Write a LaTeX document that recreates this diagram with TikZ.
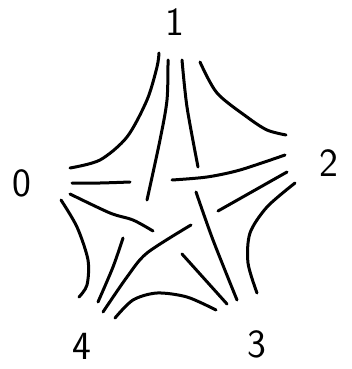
\documentclass[tikz,border=0pt]{standalone}
\begin{document}
\begin{tikzpicture}[x=1pt, y=-1pt,
    edge/.style={line width=3pt, line cap=round},
    vlabel/.style={font=\fontsize{40}{40}\selectfont\sffamily}]

    \useasboundingbox (0,0) rectangle (352,369);

    % Labels
    \node[vlabel] (v0) at (22,183) {0};
    \node[vlabel] (v1) at (175,22) {1};
    \node[vlabel] (v2) at (329,163) {2};
    \node[vlabel] (v3) at (257,344) {3};
    \node[vlabel] (v4) at (82,346) {4};

    % Outer arcs
    \draw[edge] plot[smooth] coordinates {(70,168) (100,160) (127,137) (147,100) (157,67) (159,53)};
    \draw[edge] plot[smooth] coordinates {(200,62) (217,93) (247,117) (267,130) (286,135)};
    \draw[edge] plot[smooth] coordinates {(295,183) (267,207) (250,233) (248,263) (257,293)};
    \draw[edge] plot[smooth] coordinates {(216,310) (187,297) (157,293) (133,300) (115,318)};
    \draw[edge] plot[smooth] coordinates {(79,297) (87,285) (88,260) (77,227) (61,200)};

    % Inner star
    \draw[edge] plot[smooth] coordinates {(168,60) (167,100) (160,140) (147,200)};
    \draw[edge] plot[smooth] coordinates {(123,238) (113,267) (98,302)};
    \draw[edge] plot[smooth] coordinates {(182,60) (187,107) (198,167)};
    \draw[edge] plot[smooth] coordinates {(196,192) (213,240) (237,300)};
    \draw[edge] plot[smooth] coordinates {(72,183) (100,183) (130,182)};
    \draw[edge] plot[smooth] coordinates {(172,180) (207,177) (240,170) (285,155)};
    \draw[edge] plot[smooth] coordinates {(70,194) (110,213) (133,220) (153,231)};
    \draw[edge] (182,254) -- (227,304);
    \draw[edge] (287,172) -- (218,211);
    \draw[edge] plot[smooth] coordinates {(191,225) (147,253) (127,277) (103,312)};

\end{tikzpicture}
\end{document}
